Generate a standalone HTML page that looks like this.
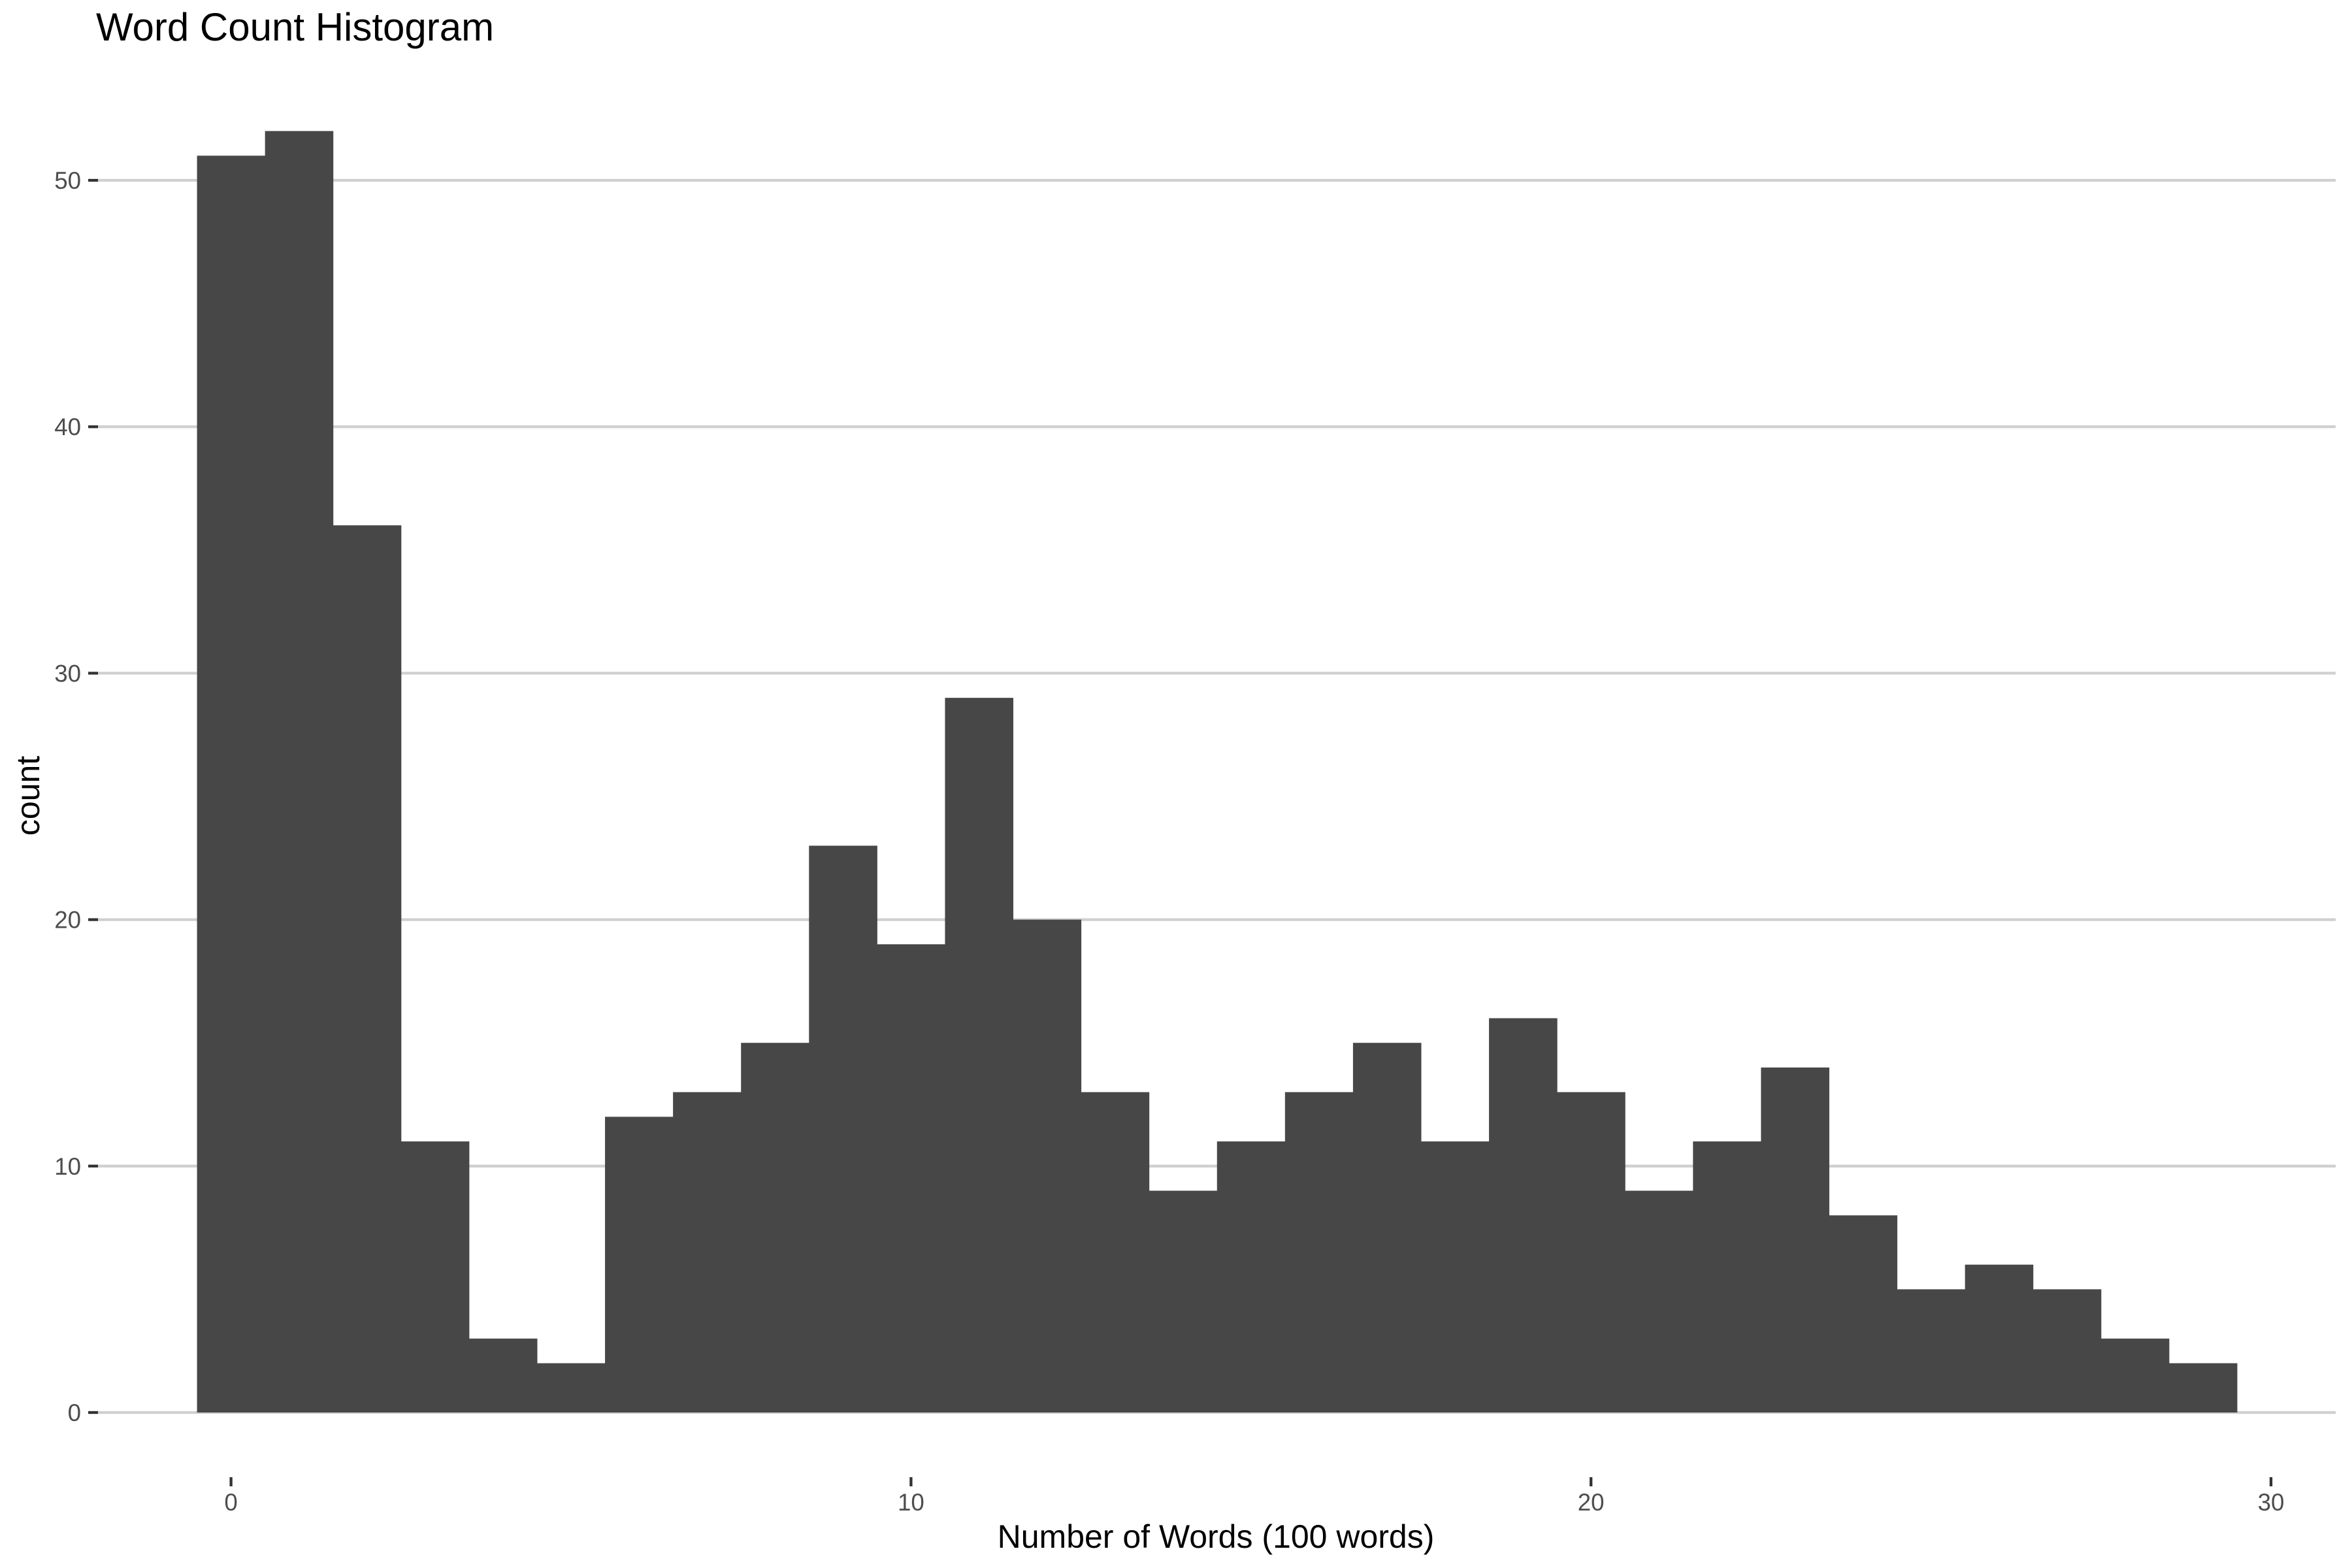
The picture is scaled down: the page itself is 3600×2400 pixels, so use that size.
<!DOCTYPE html>
<html><head><meta charset="utf-8"><style>
html,body{margin:0;padding:0;background:#fff;}
svg{display:block;font-family:"Liberation Sans",sans-serif;}
</style></head><body>
<svg id="chart" width="3600" height="2400" viewBox="0 0 3600 2400" xmlns="http://www.w3.org/2000/svg">
<text x="147" y="62" font-size="60" fill="#000">Word Count Histogram</text>
<g id="grid"></g><g id="bars"></g><g id="axes"></g>
<text x="1861" y="2369" font-size="50" text-anchor="middle" fill="#000">Number of Words (100 words)</text>
<text transform="translate(60,1218) rotate(-90)" font-size="50" text-anchor="middle" fill="#000">count</text>
</svg>
<script>
const binCenters=[0,1,2,3,4,5,6,7,8,9,10,11,12,13,14,15,16,17,18,19,20,21,22,23,24,25,26,27,28,29];
const counts=[51,52,36,11,3,2,12,13,15,23,19,29,20,13,9,11,13,15,11,16,13,9,11,14,8,5,6,5,3,2];
const yTicks=[0,10,20,30,40,50];
const xTicks=[0,10,20,30];
const binWidth=1;
const NS="http://www.w3.org/2000/svg";
const X0=353.6,X1=3476,Y0=2162,Y50=276;
const sx=v=>X0+(X1-X0)*v/30;
const sy=v=>Y0+(Y50-Y0)*v/50;
function mk(tag,attrs,parent){const e=document.createElementNS(NS,tag);for(const k in attrs)e.setAttribute(k,attrs[k]);parent.appendChild(e);return e;}
const grid=document.getElementById('grid'),bars=document.getElementById('bars'),axes=document.getElementById('axes');
yTicks.forEach(t=>{
  const l=mk('line',{x1:150,x2:3575,y1:sy(t),y2:sy(t),stroke:'#d0d0d0','stroke-width':4.3},grid);
  
  
  const tk=mk('line',{x1:135,x2:150,y1:sy(t),y2:sy(t),stroke:'#333','stroke-width':4.3},axes);
  
  
  const tx=mk('text',{x:124,y:sy(t)+13,'font-size':36.7,'text-anchor':'end',fill:'#4d4d4d'},axes);
  tx.textContent=t;
  
  
});
binCenters.forEach((c,i)=>{
  const xa=sx(c-binWidth/2),xb=sx(c+binWidth/2);
  const r=mk('rect',{x:xa,y:sy(counts[i]),width:xb-xa+0.5,height:sy(0)-sy(counts[i]),fill:'#474747'},bars);
  
  
});
xTicks.forEach(t=>{
  const tk=mk('line',{x1:sx(t),x2:sx(t),y1:2261,y2:2275,stroke:'#333','stroke-width':4.3},axes);
  
  
  const tx=mk('text',{x:sx(t),y:2312,'font-size':36.7,'text-anchor':'middle',fill:'#4d4d4d'},axes);
  tx.textContent=t;
  
  
});
</script>
</body></html>
